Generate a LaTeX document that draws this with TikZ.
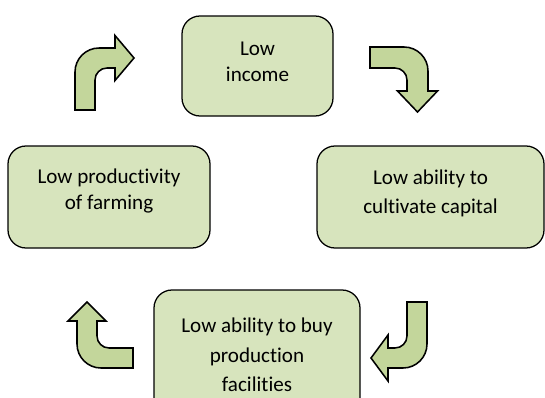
\documentclass[tikz,border=0pt]{standalone}
\usepackage{fontspec}
\setmainfont[Ligatures=NoCommon]{Carlito}
\usepackage{tikz}
\usetikzlibrary{positioning}

\definecolor{boxgreen}{HTML}{D7E4BD}
\definecolor{arrowgreen}{HTML}{C3D69B}

\begin{document}
\begin{tikzpicture}[
  stage/.style={draw=black, line width=0.9pt, fill=boxgreen, rounded corners=0.45cm,
                align=center, inner sep=0pt},
  bentarrow/.style={draw=black, line width=1.1pt, fill=arrowgreen},
]
  \useasboundingbox (0,0) rectangle (13.625,-9.925);
  \clip (0,0) rectangle (13.625,-9.925);

  % Four stages of the cycle
  \node[stage, minimum width=3.775cm, minimum height=2.5cm, text depth=5.7pt,
        font=\fontsize{15}{18.5}\selectfont] (inc) at (6.4375,-1.65) {Low\\income};
  \node[stage, minimum width=5.675cm, minimum height=2.55cm, text depth=8pt,
        font=\fontsize{15}{20.6}\selectfont] (cap) at (10.7625,-4.925) {Low ability to\\cultivate capital};
  \node[stage, minimum width=5.15cm, minimum height=3.25cm,
        font=\fontsize{15}{21}\selectfont] (fac) at (6.425,-8.875) {Low ability to buy\\production\\facilities};
  \node[stage, minimum width=5.05cm, minimum height=2.55cm, text depth=11pt,
        font=\fontsize{15}{18.5}\selectfont] (prod) at (2.725,-4.925) {Low productivity\\of farming};

  % Bent arrows between the stages (x, y, turn, arm, shaft, head base, tip, head half)
  \foreach \ox/\oy/\rot/\armlen/\shaft/\hbase/\htip/\hhalf in {
      9.25/-1.175/0/1.45/0.525/1.1/1.625/0.5,
      10.675/-7.55/-90/1.65/0.5/0.975/1.4/0.575,
      3.325/-9.2/180/1.4/0.5/1.175/1.65/0.475,
      1.875/-2.75/90/1.55/0.5/1.0/1.475/0.5625}
  {
    \draw[bentarrow, shift={(\ox,\oy)}, rotate=\rot]
      (0,0) -- ({\armlen-0.6},0) arc[start angle=90, end angle=0, radius=0.6]
      -- (\armlen,-\hbase) -- ({\armlen-\shaft/2+\hhalf},-\hbase)
      -- ({\armlen-\shaft/2},-\htip) -- ({\armlen-\shaft/2-\hhalf},-\hbase)
      -- ({\armlen-\shaft},-\hbase) -- ({\armlen-\shaft},{-\shaft-0.3})
      arc[start angle=0, end angle=90, radius=0.3] -- (0,-\shaft) -- cycle;
  }
\end{tikzpicture}
\end{document}
